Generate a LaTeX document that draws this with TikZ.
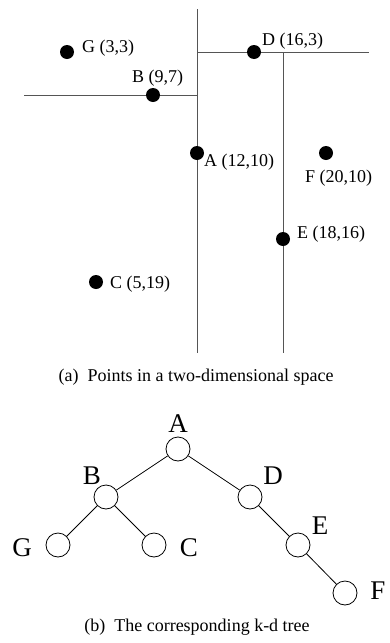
\documentclass[tikz,border=0pt]{standalone}
\usepackage{fontspec}
\setmainfont{Liberation Serif}
\usetikzlibrary{positioning,backgrounds}
\definecolor{splitgray}{HTML}{555555}

\begin{document}
\begin{tikzpicture}[
    x=1pt, y=-1pt,
    dot/.style={circle, fill=black, inner sep=0pt, minimum size=14pt},
    split/.style={draw=splitgray, line width=1pt},
    ptlabel/.style={font=\fontsize{18}{20}\selectfont, inner sep=0pt, anchor=west},
    tnode/.style={circle, draw=black, line width=0.8pt, inner sep=0pt, minimum size=24pt},
    tedge/.style={draw=black, line width=0.8pt},
    tlabel/.style={font=\fontsize{27}{30}\selectfont, inner sep=0pt},
    caption/.style={font=\fontsize{18}{20}\selectfont, inner sep=0pt}
]
\useasboundingbox (0,0) rectangle (389,643);

% (a) points
\node[dot] (pA) at (197,153) {};
\node[dot] (pB) at (153,95) {};
\node[dot] (pC) at (96,282) {};
\node[dot] (pD) at (254,52) {};
\node[dot] (pE) at (283,239) {};
\node[dot] (pF) at (326,153) {};
\node[dot] (pG) at (67,52) {};

\node[ptlabel] (lpA) at (204,162) {A (12,10)};
\node[ptlabel] (lpB) at (132,78) {B (9,7)};
\node[ptlabel] (lpC) at (110,284) {C (5,19)};
\node[ptlabel] (lpD) at (262,41) {D (16,3)};
\node[ptlabel] (lpE) at (297,234) {E (18,16)};
\node[ptlabel] (lpF) at (305,178) {F (20,10)};
\node[ptlabel] (lpG) at (82,48) {G (3,3)};

\coordinate (top) at (197,9);
\coordinate (bot) at (197,353);
\coordinate (leftend) at (24,95);
\coordinate (rightend) at (369,52);

\begin{scope}[on background layer]
\draw[split] (top) -- (bot);
\draw[split] (leftend) -- (leftend -| pA);
\draw[split] (pA |- pD) -- (rightend);
\draw[split] (pE |- pD) -- (pE |- bot);
\end{scope}

\node[caption] (capa) at (196,377) {(a)\enspace Points in a two-dimensional space};

% (b) tree
\node[tnode] (tA) at (178,449) {};
\node[tnode] (tB) at (106,497) {};
\node[tnode] (tD) at (250,497) {};
\node[tnode] (tG) at (58,545) {};
\node[tnode] (tC) at (154,545) {};
\node[tnode] (tE) at (298,545) {};
\node[tnode] (tF) at (345,593) {};

\node[tlabel] (ltA) at (178,424) {A};
\node[tlabel] (ltB) at (92,476) {B};
\node[tlabel] (ltD) at (273,476) {D};
\node[tlabel] (ltG) at (22,548) {G};
\node[tlabel] (ltC) at (189,548) {C};
\node[tlabel] (ltE) at (320,526) {E};
\node[tlabel] (ltF) at (378,591) {F};

\draw[tedge] (tA) -- (tB);
\draw[tedge] (tA) -- (tD);
\draw[tedge] (tB) -- (tG);
\draw[tedge] (tB) -- (tC);
\draw[tedge] (tD) -- (tE);
\draw[tedge] (tE) -- (tF);

\node[caption] (capb) at (197,627) {(b)\enspace The corresponding k-d tree};
\end{tikzpicture}
\end{document}
